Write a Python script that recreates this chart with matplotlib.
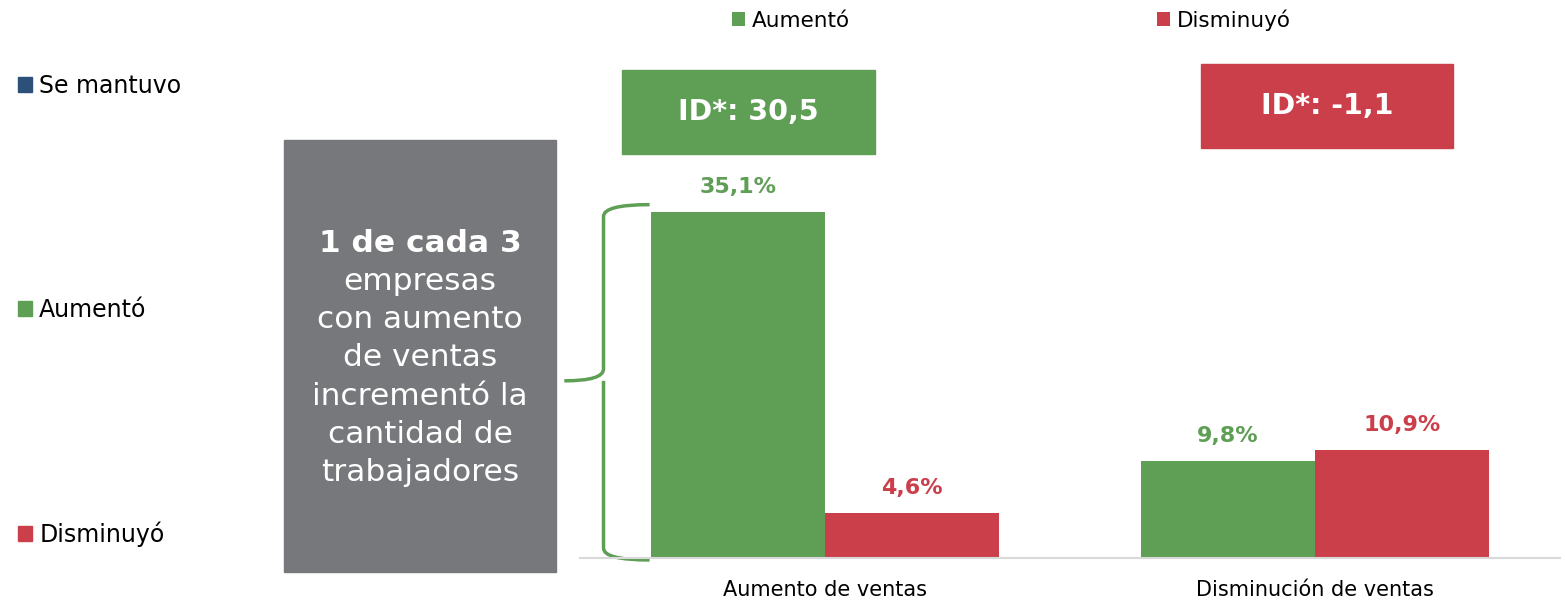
import matplotlib
matplotlib.use("Agg")
import matplotlib.pyplot as plt
import numpy as np
from matplotlib.patches import Patch, Rectangle
from matplotlib.path import Path
from matplotlib.patches import PathPatch

categories = ["Aumento de ventas", "Disminución de ventas"]
aumento = [35.1, 9.8]
disminuyo = [4.6, 10.9]
aumento_labels = ["35,1%", "9,8%"]
disminuyo_labels = ["4,6%", "10,9%"]
id_labels = ["ID*: 30,5", "ID*: -1,1"]
box_lines = ["1 de cada 3", "empresas", "con aumento", "de ventas",
             "incrementó la", "cantidad de", "trabajadores"]

GREEN = "#5f9e55"
RED = "#cb3f4b"
BLUE = "#2c5179"
GRAY = "#77787c"

W, H = 1565, 600
plt.rcParams["font.family"] = ["DejaVu Sans"]

fig = plt.figure(figsize=(W / 100, H / 100), dpi=100)


def fx(x):
    return x / W


def fy(y):
    return 1 - y / H


ax = fig.add_axes([fx(580), fy(558), (1560 - 580) / W, (558 - 100) / H])
x = np.arange(len(categories))
width = 0.356
b1 = ax.bar(x - width / 2, aumento, width, color=GREEN, label="Aumentó")
b2 = ax.bar(x + width / 2, disminuyo, width, color=RED, label="Disminuyó")
ax.set_xlim(-0.5, 1.5)
ax.set_ylim(0, 46.4)
ax.set_yticks([])
ax.set_xticks(x, categories, fontsize=15)
ax.tick_params(axis="x", length=0, pad=15.5)
for side in ("top", "left", "right"):
    ax.spines[side].set_visible(False)
ax.spines["bottom"].set_color("#d9d9d9")
ax.spines["bottom"].set_linewidth(1.5)

for xi, v, lab in zip(x - width / 2, aumento, aumento_labels):
    ax.annotate(lab, (xi, v), xytext=(0, 18), textcoords="offset points",
                ha="center", va="center", color=GREEN, fontsize=16, fontweight="bold")
for xi, v, lab in zip(x + width / 2, disminuyo, disminuyo_labels):
    ax.annotate(lab, (xi, v), xytext=(0, 18), textcoords="offset points",
                ha="center", va="center", color=RED, fontsize=16, fontweight="bold")

# top legend
fig.legend(handles=[b1, b2], loc="center left", bbox_to_anchor=(fx(732), fy(20)),
           ncol=2, frameon=False, fontsize=15.5, handlelength=0.6, handleheight=0.6,
           handletextpad=0.3, columnspacing=14.3, borderaxespad=0, borderpad=0)

# left legend
left_handles = [Patch(color=BLUE, label="Se mantuvo"), Patch(color=GREEN, label="Aumentó"),
                Patch(color=RED, label="Disminuyó")]
fig.legend(handles=left_handles, loc="upper left", bbox_to_anchor=(fx(18), fy(74)),
           frameon=False, fontsize=17, handlelength=0.6, handleheight=0.6,
           handletextpad=0.3, labelspacing=8.45, borderaxespad=0, borderpad=0)

# ID boxes
id_boxes = [(622, 70, 253, 84, GREEN), (1201, 64, 252, 84, RED)]
for (bx, by, bw, bh, col), lab in zip(id_boxes, id_labels):
    fig.patches.append(Rectangle((fx(bx), fy(by + bh)), bw / W, bh / H,
                                 transform=fig.transFigure, color=col))
    fig.text(fx(bx + bw / 2), fy(by + bh / 2), lab, ha="center", va="center",
             color="white", fontsize=20.5, fontweight="bold")

# gray annotation box
fig.patches.append(Rectangle((fx(284), fy(572)), (556 - 284) / W, (572 - 140) / H,
                             transform=fig.transFigure, color=GRAY))
for i, line in enumerate(box_lines):
    fig.text(fx(420), fy(243 + 38.3 * i), line, ha="center", va="center", color="white",
             fontsize=22.5, fontweight="bold" if i == 0 else "normal")

# brace next to the first group
bx_tip, bx_stem, bx_point = -0.358, -0.452, -0.532
y_top, y_bot, y_mid = 35.8, -0.2, 17.95
verts = [
    (bx_tip, y_top), (bx_stem, y_top), (bx_stem, y_top - 1.2),
    (bx_stem, y_mid + 1.2), (bx_stem, y_mid), (bx_point, y_mid),
    (bx_stem, y_mid), (bx_stem, y_mid - 1.2),
    (bx_stem, y_bot + 1.2), (bx_stem, y_bot), (bx_tip, y_bot),
]
codes = [Path.MOVETO, Path.CURVE3, Path.CURVE3, Path.LINETO, Path.CURVE3, Path.CURVE3,
         Path.MOVETO, Path.CURVE3, Path.LINETO, Path.CURVE3, Path.CURVE3]
ax.add_patch(PathPatch(Path(verts, codes), fill=False, edgecolor=GREEN, lw=2.5, clip_on=False))

fig.savefig("out.png", dpi=100)
